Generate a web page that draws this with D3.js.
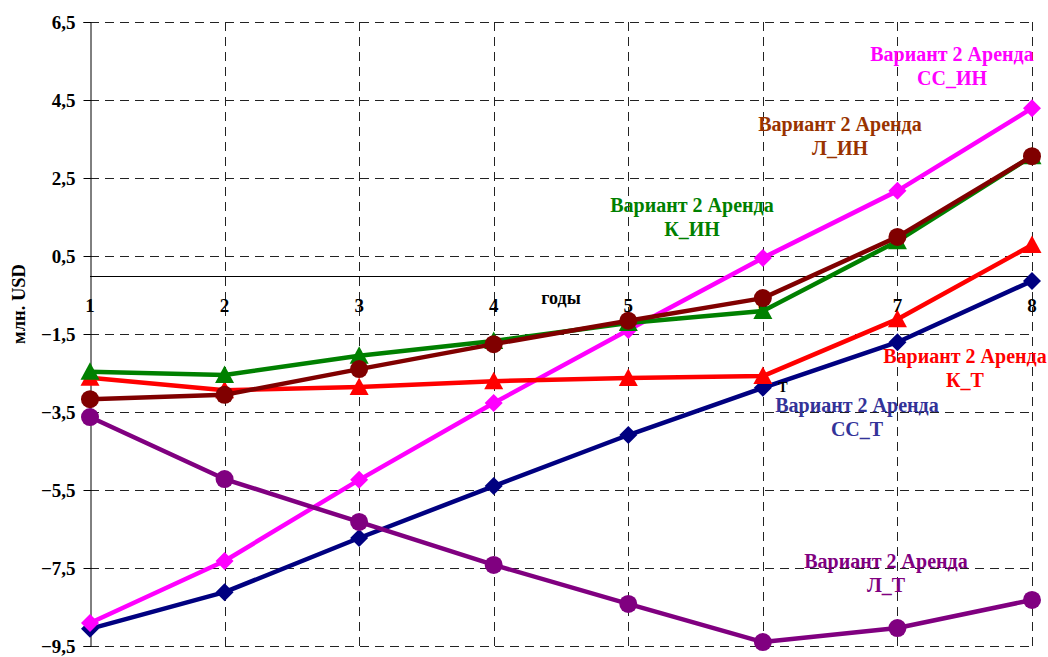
<!DOCTYPE html>
<html>
<head>
<meta charset="utf-8">
<script src="https://cdn.jsdelivr.net/npm/d3@7/dist/d3.min.js"></script>
<style>
  html, body { margin: 0; padding: 0; background: #fff; }
  svg { display: block; }
  text { font-family: "Liberation Serif", "Times New Roman", serif; font-weight: bold; }
</style>
</head>
<body>
<svg id="chart" width="1048" height="657"></svg>
<script>
// Years on the horizontal axis
const years = [1, 2, 3, 4, 5, 6, 7, 8];

// Y axis ticks (млн. USD)
const yTicks = [6.5, 4.5, 2.5, 0.5, -1.5, -3.5, -5.5, -7.5, -9.5];

// Series values by year
const ssT  = [-9.06, -8.12, -6.73, -5.40, -4.09, -2.88, -1.71, -0.14];
const ssIN = [-8.91, -7.32, -5.24, -3.27, -1.40, 0.45, 2.17, 4.29];
const kT   = [-2.62, -2.94, -2.86, -2.71, -2.63, -2.58, -1.12, 0.78];
const kIN  = [-2.47, -2.55, -2.06, -1.68, -1.22, -0.91, 0.88, 3.06];
const lIN  = [-3.17, -3.06, -2.40, -1.76, -1.16, -0.58, 0.99, 3.06];
const lT   = [-3.63, -5.22, -6.32, -7.42, -8.42, -9.40, -9.04, -8.32];

// Series labels
const labelTop = "Вариант 2 Аренда";
const seriesNames = ["СС_Т", "СС_ИН", "К_Т", "К_ИН", "Л_ИН", "Л_Т"];

const series = [
  { name: seriesNames[0], values: ssT,  color: "#000080", text: "#333399", marker: "diamond",  lx: 857, ly: 412 },
  { name: seriesNames[1], values: ssIN, color: "#FF00FF", text: "#FF00FF", marker: "diamond",  lx: 952, ly: 61 },
  { name: seriesNames[2], values: kT,   color: "#FF0000", text: "#FF0000", marker: "triangle", lx: 965, ly: 363 },
  { name: seriesNames[3], values: kIN,  color: "#008000", text: "#008000", marker: "triangle", lx: 692, ly: 212 },
  { name: seriesNames[4], values: lIN,  color: "#800000", text: "#993300", marker: "circle",   lx: 840, ly: 131 },
  { name: seriesNames[5], values: lT,   color: "#800080", text: "#800080", marker: "circle",   lx: 886, ly: 568 }
];

const svg = d3.select("#chart");
const plotLeft = 90, plotRight = 1032, plotTop = 22, plotBottom = 646;

const x = d3.scalePoint().domain(years).range([plotLeft, plotRight]);
const y = d3.scaleLinear().domain([-9.5, 6.5]).range([plotBottom, plotTop]);

// Dashed grid
const grid = svg.append("g").attr("stroke", "#222").attr("stroke-width", 1)
  .attr("stroke-dasharray", "9,6").attr("shape-rendering", "crispEdges");
grid.selectAll("line.h").data(yTicks).join("line").attr("class", "h")
  .attr("x1", plotLeft).attr("x2", plotRight)
  .attr("y1", d => Math.round(y(d)) + 0.5).attr("y2", d => Math.round(y(d)) + 0.5);
grid.selectAll("line.v").data(years.slice(1)).join("line").attr("class", "v")
  .attr("y1", plotTop).attr("y2", plotBottom)
  .attr("x1", d => Math.round(x(d)) + 0.5).attr("x2", d => Math.round(x(d)) + 0.5);

// Y axis
const yAxis = d3.axisLeft(y).tickValues(yTicks).tickSizeOuter(0).tickSize(7).tickPadding(8)
  .tickFormat(d => d3.format(".1f")(d).replace(".", ","));
const yg = svg.append("g").attr("transform", `translate(${plotLeft + 0.5},0)`).call(yAxis);
yg.select(".domain").attr("stroke", "#000");
yg.selectAll(".tick line").attr("stroke", "#000");
yg.selectAll(".tick text").attr("font-size", 19).attr("fill", "#000")
  .attr("font-family", "Liberation Serif, serif").attr("font-weight", "bold");

// Zero line with year labels
svg.append("line").attr("x1", plotLeft).attr("x2", plotRight)
  .attr("y1", Math.round(y(0)) + 0.5).attr("y2", Math.round(y(0)) + 0.5)
  .attr("stroke", "#000").attr("stroke-width", 1).attr("shape-rendering", "crispEdges");
svg.append("g").selectAll("text").data(years).join("text")
  .attr("x", d => x(d)).attr("y", y(0) + 36)
  .attr("text-anchor", "middle").attr("font-size", 19).attr("fill", "#000")
  .text(d => d);
svg.append("text").attr("x", 561).attr("y", y(0) + 28)
  .attr("text-anchor", "middle").attr("font-size", 18).attr("fill", "#000").text("годы");

// Y title
svg.append("text").attr("transform", "translate(25,304) rotate(-90)")
  .attr("text-anchor", "middle").attr("font-size", 18.5).attr("fill", "#000").text("млн. USD");

// Lines and markers
const line = d3.line().x((d, i) => x(years[i])).y(d => y(d));
const markerPath = {
  diamond: () => { const p = d3.path(); p.moveTo(0, -9); p.lineTo(9, 0); p.lineTo(0, 9); p.lineTo(-9, 0); p.closePath(); return p.toString(); },
  triangle: () => { const p = d3.path(); p.moveTo(0, -9.5); p.lineTo(9.5, 8); p.lineTo(-9.5, 8); p.closePath(); return p.toString(); },
  circle: () => d3.symbol().type(d3.symbolCircle).size(Math.PI * 81)()
};

series.forEach(s => {
  const g = svg.append("g");
  g.append("path").datum(s.values).attr("d", line)
    .attr("fill", "none").attr("stroke", s.color).attr("stroke-width", 4.5)
    .attr("stroke-linejoin", "round");
  g.selectAll("path.m").data(s.values).join("path").attr("class", "m")
    .attr("transform", (d, i) => `translate(${x(years[i])},${y(d)})`)
    .attr("d", markerPath[s.marker]()).attr("fill", s.color);
});

// Series labels
series.forEach(s => {
  const t = svg.append("text").attr("text-anchor", "middle").attr("font-size", 20).attr("fill", s.text);
  t.append("tspan").attr("x", s.lx).attr("y", s.ly).text(labelTop);
  t.append("tspan").attr("x", s.lx).attr("y", s.ly + 24).text(s.name);
});

// Stray glyph near year 6
svg.append("text").attr("x", 783).attr("y", 392).attr("text-anchor", "middle")
  .attr("font-size", 14).attr("font-weight", "normal").attr("fill", "#000").text("Т");
</script>
</body>
</html>
